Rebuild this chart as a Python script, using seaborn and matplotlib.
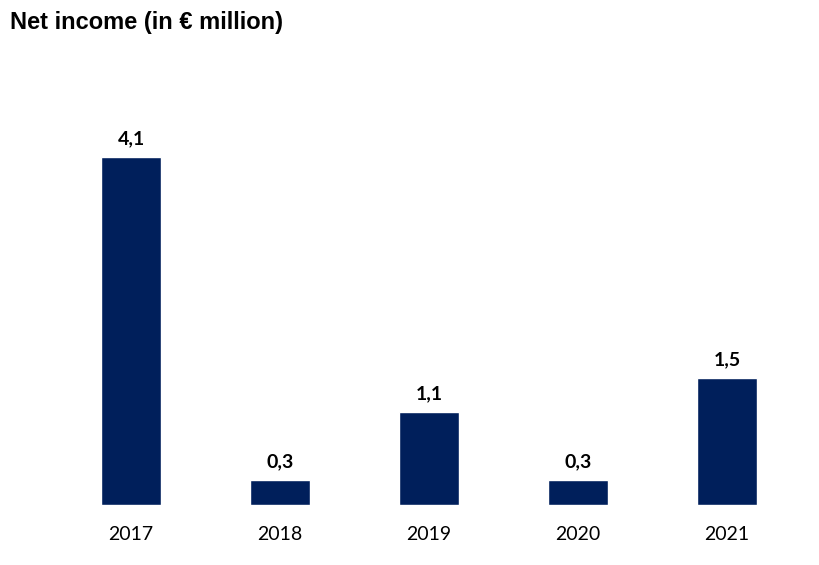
import matplotlib
matplotlib.use("Agg")
import matplotlib.pyplot as plt
import pandas as pd
import seaborn as sns

# data
years = ["2017", "2018", "2019", "2020", "2021"]
net_income = [4.1, 0.3, 1.1, 0.3, 1.5]
labels = ["4,1", "0,3", "1,1", "0,3", "1,5"]

df = pd.DataFrame({"year": years, "income": net_income})

sns.set_theme(style="white")
plt.rcParams["font.family"] = ["Lato", "DejaVu Sans"]

fig = plt.figure(figsize=(8.19, 5.65), dpi=100)
ax = fig.add_axes([0.069, 0.1062, 0.9096, 0.7513])

sns.barplot(data=df, x="year", y="income", color="#001f5b", width=0.4,
            saturation=1, ax=ax)

ax.bar_label(ax.containers[0], labels=labels, padding=7,
             fontsize=14, fontweight="bold", color="black")

ax.set_xlim(-0.5, 4.5)
ax.set_ylim(0, 5)
ax.set_xlabel("")
ax.set_ylabel("")
ax.set_yticks([])
ax.tick_params(axis="x", length=0, pad=15, labelsize=14, colors="black")
sns.despine(ax=ax, left=True, bottom=True)

fig.text(10 / 819, 1 - 23 / 565, "Net income (in € million)",
         family=["Liberation Sans", "DejaVu Sans"], fontsize=17,
         fontweight="bold", va="center", ha="left", color="black")

fig.savefig("out.png", dpi=100)
